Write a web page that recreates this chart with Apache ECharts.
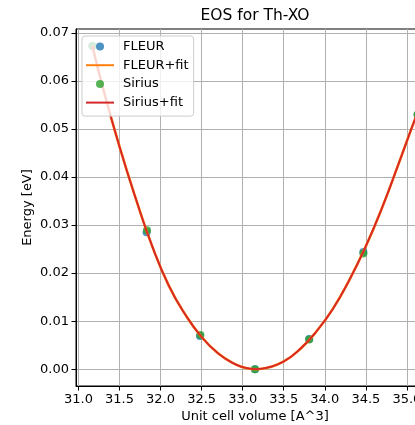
<!DOCTYPE html>
<html>
<head>
<meta charset="utf-8">
<script src="https://cdn.jsdelivr.net/npm/echarts@6/dist/echarts.min.js"></script>
<style>
  html, body { margin: 0; padding: 0; background: #fff; }
  #main { width: 415px; height: 425px; }
</style>
</head>
<body>
<div id="main"></div>
<script>
// 数据点
var fleurVol = [31.17, 31.83, 32.48, 33.15, 33.81, 34.47, 35.13];
var fleurE = [0.0672, 0.0285, 0.0069, 0.0000, 0.0063, 0.0244, 0.0530];
var siriusVol = [31.17, 31.835, 32.485, 33.15, 33.81, 34.47, 35.13];
var siriusE = [0.0673, 0.0289, 0.0071, 0.0000, 0.0062, 0.0241, 0.0530];

// 拟合曲线
var fitVol = [31.17, 31.3, 31.5, 31.7, 31.9, 32.1, 32.3, 32.5, 32.7, 32.9, 33.05, 33.17, 33.3, 33.5, 33.7, 33.9, 34.1, 34.3, 34.5, 34.7, 34.9, 35.1, 35.13];
var fitE = [0.0672, 0.0584, 0.0463, 0.0354, 0.0255, 0.0174, 0.0114, 0.0067, 0.0033, 0.0011, 0.0002, 0.0000, 0.0003, 0.0016, 0.0042, 0.0079, 0.0126, 0.0186, 0.0256, 0.0337, 0.0428, 0.0521, 0.0532];

var xTicks = [31.0, 31.5, 32.0, 32.5, 33.0, 33.5, 34.0, 34.5, 35.0];
var yTicks = [0.00, 0.01, 0.02, 0.03, 0.04, 0.05, 0.06, 0.07];

function pairs(xs, ys) {
	var out = [];
	for (var i = 0; i < xs.length; i++) {
		out.push([xs[i], ys[i]]);
	}
	return out;
}

var FONT = 'DejaVu Sans';
var lineIcon = 'path://M0,0H28V2H0Z';
var echar = echarts.init(document.getElementById('main'));
var option = {
	animation: false,
	textStyle: { fontFamily: FONT },
	title: {
		text: 'EOS for Th-XO',
		left: 250,
		textAlign: 'center',
		top: 3,
		textStyle: { fontFamily: FONT, fontSize: 15.5, fontWeight: 'normal', color: '#000' }
	},
	grid: {
		left: 76, top: 29, width: 358, height: 357,
		outerBoundsMode: 'none', containLabel: false,
		show: true, borderColor: '#000', borderWidth: 1, backgroundColor: 'transparent'
	},
	legend: {
		orient: 'vertical',
		left: 82, top: 36,
		z: 10,
		itemWidth: 28, itemHeight: 8, itemGap: 5.7,
		padding: [4, 5, 7, 4],
		backgroundColor: 'rgba(255,255,255,0.8)',
		borderColor: '#cccccc', borderWidth: 1, borderRadius: 3,
		textStyle: { fontFamily: FONT, fontSize: 13, color: '#000', padding: [0, 0, 0, 4] },
		data: [
			{ name: 'FLEUR', icon: 'circle' },
			{ name: 'FLEUR+fit', icon: lineIcon },
			{ name: 'Sirius', icon: 'circle' },
			{ name: 'Sirius+fit', icon: lineIcon }
		]
	},
	xAxis: {
		type: 'value',
		min: 30.97, max: 35.33,
		name: 'Unit cell volume [A^3]',
		nameLocation: 'middle', nameGap: 24, nameMoveOverlap: false,
		nameTextStyle: { fontFamily: FONT, fontSize: 13, color: '#000' },
		axisLine: { show: true, onZero: false, lineStyle: { color: '#000', width: 1 } },
		axisTick: { show: true, inside: false, length: 4.5, customValues: xTicks, lineStyle: { color: '#000' } },
		axisLabel: {
			customValues: xTicks, margin: 7, color: '#000', fontFamily: FONT, fontSize: 13,
			formatter: function(v) { return v.toFixed(1); }
		},
		splitLine: { show: true, customValues: xTicks, lineStyle: { color: '#b0b0b0', width: 1 } }
	},
	yAxis: {
		type: 'value',
		min: -0.0035, max: 0.0708,
		name: 'Energy [eV]',
		nameLocation: 'middle', nameGap: 42, nameMoveOverlap: false,
		nameTextStyle: { fontFamily: FONT, fontSize: 13, color: '#000' },
		axisLine: { show: true, onZero: false, lineStyle: { color: '#000', width: 1 } },
		axisTick: { show: true, inside: false, length: 4.5, customValues: yTicks, lineStyle: { color: '#000' } },
		axisLabel: {
			customValues: yTicks, margin: 7, color: '#000', fontFamily: FONT, fontSize: 13,
			formatter: function(v) { return v.toFixed(2); }
		},
		splitLine: { show: true, customValues: yTicks, lineStyle: { color: '#b0b0b0', width: 1 } }
	},
	series: [
		{
			name: 'FLEUR', type: 'scatter', symbol: 'circle', symbolSize: 8,
			itemStyle: { color: '#1f77b4' },
			data: pairs(fleurVol, fleurE)
		},
		{
			name: 'FLEUR+fit', type: 'line', smooth: true, showSymbol: false, symbol: 'none',
			lineStyle: { color: '#ff7f0e', width: 2.6 }, itemStyle: { color: '#ff7f0e' },
			data: pairs(fitVol, fitE)
		},
		{
			name: 'Sirius', type: 'scatter', symbol: 'circle', symbolSize: 8,
			itemStyle: { color: '#2ca02c' },
			data: pairs(siriusVol, siriusE)
		},
		{
			name: 'Sirius+fit', type: 'line', smooth: true, showSymbol: false, symbol: 'none',
			lineStyle: { color: '#d62728', width: 1.8 }, itemStyle: { color: '#d62728' },
			data: pairs(fitVol, fitE)
		}
	]
};
echar.setOption(option);
</script>
</body>
</html>
